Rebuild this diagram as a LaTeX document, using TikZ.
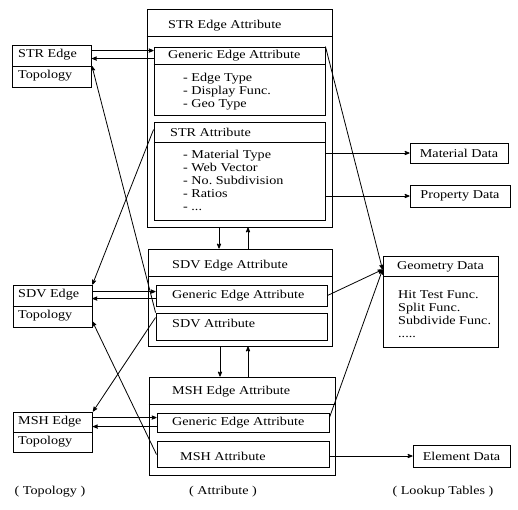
\documentclass[tikz,border=0pt]{standalone}
\usepackage{fontspec}
\setmainfont{Liberation Serif}[FakeStretch=1.18]
\usetikzlibrary{shapes,arrows}
\tikzstyle{outerbox} = [rectangle, draw=black, line width=0.9pt, inner sep=0pt]
\tikzstyle{innerbox} = [rectangle, draw=black, line width=0.9pt, inner sep=0pt, minimum width=171pt]
\tikzstyle{edgebox} = [rectangle, draw=black, line width=0.9pt, inner sep=0pt, minimum width=79pt, minimum height=42pt]
\tikzstyle{tablebox} = [rectangle, draw=black, line width=0.9pt, inner sep=0pt, text centered]
\tikzstyle{txt} = [anchor=west, inner sep=0pt]
\tikzstyle{itemlist} = [anchor=north west, inner sep=0pt, align=left]
\tikzstyle{sepline} = [line width=0.9pt]
\tikzstyle{arrow} = [line width=0.8pt,->,>=stealth']

\begin{document}
\begin{tikzpicture}[x=1pt, y=-1pt, font=\fontsize{12}{13}\selectfont]
        \useasboundingbox (0,0) rectangle (518,509);
        % topology
        \node (stredge) [edgebox] at (52,66) {};
        \node (sdvedge) [edgebox] at (52.5,306) {};
        \node (mshedge) [edgebox, minimum height=40pt] at (53,432) {};
        \draw [sepline] (stredge.west) -- (stredge.east);
        \draw [sepline] (sdvedge.west) -- (sdvedge.east);
        \draw [sepline] (mshedge.west) -- (mshedge.east);
        \node (strename) [txt] at (18,55) {STR Edge};
        \node (strtopo) [txt] at (18,76) {Topology};
        \node (sdvename) [txt] at (18,295) {SDV Edge};
        \node (sdvtopo) [txt] at (18,316) {Topology};
        \node (mshename) [txt] at (18,422) {MSH Edge};
        \node (mshtopo) [txt] at (18,442) {Topology};
        % attributes
        \node (strbox) [outerbox, minimum width=185pt, minimum height=218pt] at (239.5,118) {};
        \node (strgen) [innerbox, minimum height=68pt] at (239.5,81) {};
        \node (strattr) [innerbox, minimum height=98pt] at (239.5,171) {};
        \draw [sepline] ([yshift=-28pt]strbox.north west) -- ([yshift=-28pt]strbox.north east);
        \draw [sepline] ([yshift=-18pt]strgen.north west) -- ([yshift=-18pt]strgen.north east);
        \draw [sepline] ([yshift=-21pt]strattr.north west) -- ([yshift=-21pt]strattr.north east);
        \node (strtitle) [txt] at (168,26) {STR Edge Attribute};
        \node (strgenhead) [txt] at (168,56) {Generic Edge Attribute};
        \node (strgenlist) [itemlist] at (183,72.8) {- Edge Type\\- Display Func.\\- Geo Type};
        \node (strattrhead) [txt] at (170,132) {STR Attribute};
        \node (strattrlist) [itemlist] at (183,149.8) {- Material Type\\- Web Vector\\- No.\ Subdivision\\- Ratios\\- ...};

        \node (sdvbox) [outerbox, minimum width=184pt, minimum height=97pt] at (240,297.5) {};
        \node (sdvgen) [innerbox, minimum height=21pt] at (241.5,295.5) {};
        \node (sdvattr) [innerbox, minimum height=27pt] at (241.5,326.5) {};
        \draw [sepline] ([yshift=-28pt]sdvbox.north west) -- ([yshift=-28pt]sdvbox.north east);
        \node (sdvtitle) [txt] at (172,266) {SDV Edge Attribute};
        \node (sdvgenhead) [txt] at (172,295.5) {Generic Edge Attribute};
        \node (sdvattrhead) [txt] at (172,323) {SDV Attribute};

        \node (mshbox) [outerbox, minimum width=186pt, minimum height=98pt] at (242,426) {};
        \node (mshgen) [innerbox, minimum width=172pt, minimum height=19pt] at (243,422.5) {};
        \node (mshattr) [innerbox, minimum width=172pt, minimum height=26pt] at (243,454) {};
        \draw [sepline] ([yshift=-28pt]mshbox.north west) -- ([yshift=-28pt]mshbox.north east);
        \node (mshtitle) [txt] at (172,392) {MSH Edge Attribute};
        \node (mshgenhead) [txt] at (172,422.5) {Generic Edge Attribute};
        \node (mshattrhead) [txt] at (180,456) {MSH Attribute};
        % lookup tables
        \node (matdata) [tablebox, minimum width=98pt, minimum height=20pt] at (459,153) {Material Data};
        \node (propdata) [tablebox, minimum width=100pt, minimum height=22pt] at (460,196) {Property Data};
        \node (geodata) [tablebox, minimum width=115pt, minimum height=91pt] at (440.5,301.5) {};
        \draw [sepline] ([yshift=-21pt]geodata.north west) -- ([yshift=-21pt]geodata.north east);
        \node (geohead) at (440.5,267) {Geometry Data};
        \node (geolist) [itemlist] at (398,290.8) {Hit Test Func.\\Split Func.\\Subdivide Func.\\.....};
        \node (eledata) [tablebox, minimum width=97pt, minimum height=22pt] at (461.5,456) {Element Data};
        \coordinate (geoin) at ([yshift=-14pt]geodata.north west);

        \node (topolbl) at (50,492) {( Topology )};
        \node (attrlbl) at (223,492) {( Attribute )};
        \node (lookuplbl) at (443,492) {( Lookup Tables )};

        \draw [arrow] ([yshift=-6pt]stredge.north east) -- ([yshift=-6pt]stredge.north east -| strgen.west);
        \draw [arrow] ([yshift=-14pt]stredge.north east -| strgen.west) -- ([yshift=-14pt]stredge.north east);
        \draw [arrow] ([yshift=-7pt]sdvedge.north east) -- ([yshift=-7pt]sdvedge.north east -| sdvgen.west);
        \draw [arrow] ([yshift=-14pt]sdvedge.north east -| sdvgen.west) -- ([yshift=-14pt]sdvedge.north east);
        \draw [arrow] ([yshift=-6pt]mshedge.north east) -- ([yshift=-6pt]mshedge.north east -| mshgen.west);
        \draw [arrow] ([yshift=-15pt]mshedge.north east -| mshgen.west) -- ([yshift=-15pt]mshedge.north east);

        \draw [arrow] ([yshift=-8pt]strattr.north west) -- (sdvedge.north east);
        \draw [arrow] (sdvattr.north west) -- (stredge.east);
        \draw [arrow] ([yshift=-5pt]sdvattr.north west) -- (mshedge.north east);
        \draw [arrow] ([yshift=-14pt]mshattr.north west) -- ([yshift=6pt]sdvedge.south east);

        \draw [arrow] ([xshift=-20.5pt]strbox.south) -- ([xshift=-20.5pt]strbox.south |- sdvbox.north);
        \draw [arrow] ([xshift=8.5pt]strbox.south |- sdvbox.north) -- ([xshift=8.5pt]strbox.south);
        \draw [arrow] ([xshift=-20pt]sdvbox.south) -- ([xshift=-20pt]sdvbox.south |- mshbox.north);
        \draw [arrow] ([xshift=8pt]sdvbox.south |- mshbox.north) -- ([xshift=8pt]sdvbox.south);

        \draw [arrow] (strattr.east |- matdata.west) -- (matdata.west);
        \draw [arrow] (strattr.east |- propdata.west) -- (propdata.west);
        \draw [arrow] (strgen.north east) -- (geoin);
        \draw [arrow] (sdvgen.east) -- (geoin);
        \draw [arrow] ([yshift=-5pt]mshgen.north east) -- (geoin);
        \draw [arrow] (mshattr.east |- eledata.west) -- (eledata.west);
\end{tikzpicture}
\end{document}
